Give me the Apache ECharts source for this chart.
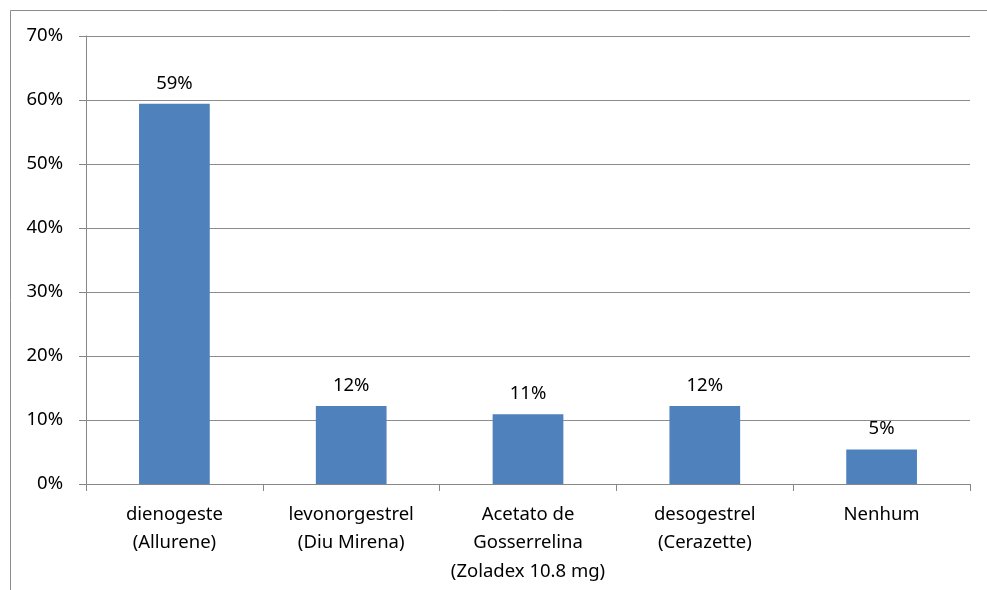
<!DOCTYPE html>
<html>
<head>
<meta charset="utf-8">
<script src="https://cdn.jsdelivr.net/npm/echarts@6/dist/echarts.min.js"></script>
<style>html,body{margin:0;padding:0;background:#fff}#c{width:987px;height:590px}</style>
</head>
<body>
<div id="c"></div>
<script>
var categories = ['dienogeste\n(Allurene)', 'levonorgestrel\n(Diu Mirena)', 'Acetato de\nGosserrelina\n(Zoladex 10.8 mg)', 'desogestrel\n(Cerazette)', 'Nenhum'];
var values = [59.4, 12.2, 10.9, 12.2, 5.4];
var yTicks = {min: 0, max: 70, interval: 10};

var chart = echarts.init(document.getElementById('c'));
var font = 'Noto Sans, sans-serif';
chart.setOption({
  animation: false,
  graphic: [{
    type: 'rect', silent: true,
    shape: {x: 10.5, y: 10.5, width: 1200, height: 1200},
    style: {fill: 'none', stroke: '#8c8c8c', lineWidth: 1}
  }],
  grid: {left: 86, right: 17, top: 36, bottom: 106, containLabel: false},
  xAxis: {
    type: 'category', data: categories,
    axisLine: {lineStyle: {color: '#878787', width: 1}},
    axisTick: {show: true, length: 7, alignWithLabel: false, lineStyle: {color: '#878787'}},
    axisLabel: {color: '#000', fontFamily: font, fontSize: 18.5, lineHeight: 28.5, margin: 16, interval: 0}
  },
  yAxis: {
    type: 'value', min: yTicks.min, max: yTicks.max, interval: yTicks.interval,
    axisLine: {show: true, lineStyle: {color: '#878787', width: 1}},
    axisTick: {show: true, length: 7, lineStyle: {color: '#878787'}},
    splitLine: {lineStyle: {color: '#8c8c8c', width: 1}},
    axisLabel: {color: '#000', fontFamily: font, fontSize: 18.5, margin: 23, formatter: '{value}%'}
  },
  series: [{
    type: 'bar', data: values, barWidth: '40%',
    itemStyle: {color: '#4f81bd'},
    label: {show: true, position: 'top', distance: 11, color: '#000', fontFamily: font, fontSize: 18.5,
      formatter: function (p) { return Math.round(p.value) + '%'; }}
  }]
});
</script>
</body>
</html>
